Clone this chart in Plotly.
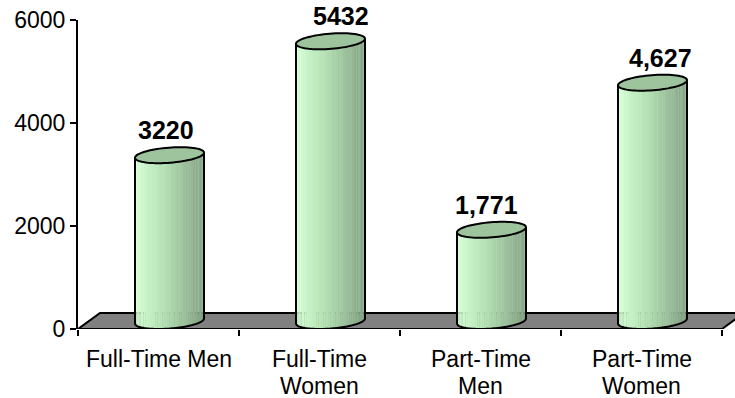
import numpy as np
import plotly.graph_objects as go

# ---- data ----
categories = ["Full-Time Men", "Full-Time<br>Women", "Part-Time<br>Men", "Part-Time<br>Women"]
values = [3220, 5432, 1771, 4627]
value_labels = ["3220", "5432", "1,771", "4,627"]
y_ticks = [0, 2000, 4000, 6000]

# ---- page / plot geometry (pixels) ----
W, H = 735, 398
M_L, M_R, M_T, M_B = 78, 0, 20, 69
Y_MAX = 6000
BAND_PX = 161                      # width of one category band
plot_w = W - M_L - M_R
plot_h = H - M_T - M_B
x_lo = -0.5
x_hi = x_lo + plot_w / BAND_PX
VPP = Y_MAX / plot_h               # value units per pixel

# oblique 3-D look: depth goes right/up
DEPTH_PX = (22, 16)
HALF_D = (DEPTH_PX[0] / 2, DEPTH_PX[1] / 2)
AX = 32.7                          # horizontal semi-axis of the cylinder circle (px)
R_PX = np.hypot(AX, HALF_D[0])     # half visible width of the cylinder
label_dx_px = [7, 21, 6, 19]       # small horizontal nudges of the value labels
LABEL_LIFT = 17                    # px above the bar top for value labels
CAT_TOP = -15                      # px below the floor front edge for category labels
CAT_LINE = 27                      # line spacing of category labels

FONT = "Liberation Sans, Arial, sans-serif"
TOP_FILL = "#9DC49D"
FLOOR_FILL = "#808080"


def dx(px):
    return px / BAND_PX


def dy(px):
    return px * VPP


def ring_point(xc, yc, phi):
    """Point on a projected horizontal circle centred at (xc, yc) in data coords."""
    ox = AX * np.cos(phi) + HALF_D[0] * np.sin(phi)
    oy = HALF_D[1] * np.sin(phi)
    return xc + dx(ox), yc + dy(oy), ox


def path_from(points, close=True):
    s = "M " + " L ".join(f"{x:.5f},{y:.3f}" for x, y in points)
    return s + (" Z" if close else "")


def body_color(t):
    stops = [(0.0, (212, 255, 212)), (0.45, (178, 222, 178)), (1.0, (132, 162, 132))]
    for (t0, c0), (t1, c1) in zip(stops[:-1], stops[1:]):
        if t <= t1:
            f = (t - t0) / (t1 - t0)
            c = [round(a + (b - a) * f) for a, b in zip(c0, c1)]
            return f"rgb({c[0]},{c[1]},{c[2]})"
    return f"rgb{stops[-1][1]}"


shapes = []

# floor
fx0, fx1 = -0.5, 3.5
floor = [(fx0, 0), (fx1, 0), (fx1 + dx(DEPTH_PX[0]), dy(DEPTH_PX[1])),
         (fx0 + dx(DEPTH_PX[0]), dy(DEPTH_PX[1]))]
shapes.append(dict(type="path", xref="x", yref="y", path=path_from(floor),
                   fillcolor=FLOOR_FILL, line=dict(color="black", width=2)))

# cylinders
phi_r = np.arctan2(HALF_D[0], AX)
phi_l = phi_r + np.pi
n_strips = 44
for i, v in enumerate(values):
    xc = i + dx(HALF_D[0])
    yb = dy(HALF_D[1])
    yt = yb + v
    phis = np.linspace(phi_l, phi_r + 2 * np.pi, n_strips + 1)
    for a, b in zip(phis[:-1], phis[1:]):
        b2 = min(b + 0.01, phis[-1])
        xa0, ya0, oxa = ring_point(xc, yb, a)
        xb0, yb0, oxb = ring_point(xc, yb, b2)
        xa1, ya1, _ = ring_point(xc, yt, a)
        xb1, yb1, _ = ring_point(xc, yt, b2)
        t = ((oxa + oxb) / 2 + R_PX) / (2 * R_PX)
        shapes.append(dict(type="path", xref="x", yref="y",
                           path=path_from([(xa0, ya0), (xb0, yb0), (xb1, yb1), (xa1, ya1)]),
                           fillcolor=body_color(t), line=dict(width=0)))
    # outline of the body: left side, front bottom arc, right side
    arc = [ring_point(xc, yb, p)[:2] for p in np.linspace(phi_l, phi_r + 2 * np.pi, 60)]
    left_top = ring_point(xc, yt, phi_l)[:2]
    right_top = ring_point(xc, yt, phi_r)[:2]
    shapes.append(dict(type="path", xref="x", yref="y",
                       path=path_from([left_top] + arc + [right_top], close=False),
                       fillcolor="rgba(0,0,0,0)", line=dict(color="black", width=2)))
    # top face
    top = [ring_point(xc, yt, p)[:2] for p in np.linspace(0, 2 * np.pi, 73)[:-1]]
    shapes.append(dict(type="path", xref="x", yref="y", path=path_from(top),
                       fillcolor=TOP_FILL, line=dict(color="black", width=2)))

annotations = []
for i, (v, lab) in enumerate(zip(values, value_labels)):
    annotations.append(dict(x=i + dx(label_dx_px[i]), y=v, xref="x", yref="y",
                            text=f"<b>{lab}</b>", showarrow=False,
                            xanchor="center", yanchor="bottom", yshift=LABEL_LIFT,
                            font=dict(family=FONT, size=25, color="black")))
# category labels, one annotation per text line
for i, c in enumerate(categories):
    for k, line in enumerate(c.split("<br>")):
        annotations.append(dict(x=i, y=0, xref="x", yref="y", text=line, showarrow=False,
                                xanchor="center", yanchor="top",
                                yshift=CAT_TOP - k * CAT_LINE,
                                font=dict(family=FONT, size=23, color="black")))

fig = go.Figure()
# invisible trace so the axes are set up
fig.add_trace(go.Scatter(x=[0, 1, 2, 3], y=values, mode="markers",
                         marker=dict(opacity=0), hoverinfo="skip", showlegend=False))

fig.update_layout(
    width=W, height=H,
    margin=dict(l=M_L, r=M_R, t=M_T, b=M_B, pad=0),
    paper_bgcolor="white", plot_bgcolor="white",
    showlegend=False,
    shapes=shapes,
    annotations=annotations,
    xaxis=dict(range=[x_lo, x_hi], tickvals=[-0.5, 0.5, 1.5, 2.5, 3.5],
               showticklabels=False, ticks="outside", ticklen=6, tickwidth=2,
               tickcolor="black", showline=False, showgrid=False, zeroline=False,
               fixedrange=True),
    yaxis=dict(range=[0, Y_MAX], tickvals=y_ticks, ticks="outside", ticklen=6,
               tickwidth=2, tickcolor="black", showline=True, linecolor="black",
               linewidth=2, showgrid=False, zeroline=False,
               tickfont=dict(family=FONT, size=23, color="black"), fixedrange=True),
)

fig.write_html("out.html", config={"displayModeBar": False})
